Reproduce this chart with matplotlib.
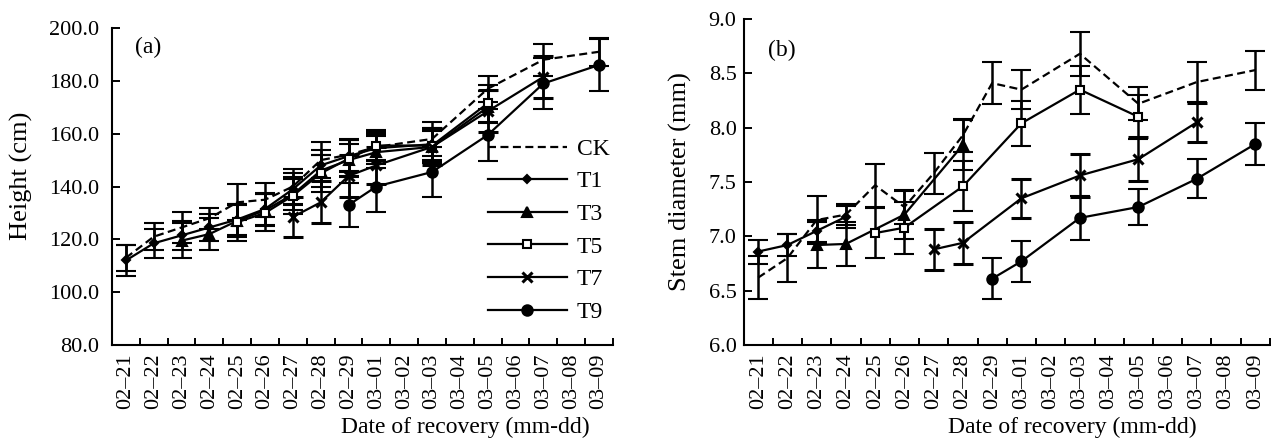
import numpy as np
import matplotlib
matplotlib.use("Agg")
import matplotlib.pyplot as plt
from matplotlib.lines import Line2D

plt.rcParams['font.family'] = ['Liberation Serif', 'DejaVu Serif']

# Sampling dates (mm-dd)
dates = ['02–21', '02–22', '02–23', '02–24', '02–25', '02–26', '02–27', '02–28', '02–29',
         '03–01', '03–02', '03–03', '03–04', '03–05', '03–06', '03–07', '03–08', '03–09']
series_names = ['CK', 'T1', 'T3', 'T5', 'T7', 'T9']
N = None

# (a) plant height, cm
height_ck = [113, 121, 124.5, 128, 134, 135, 140, 150, 152, 155, N, 158, N, 177, N, 188, N, 191]
height_ck_err = [5, 5, 6, 4, 6.8, 6.5, 6.7, 6.7, 6, 5, N, 6.3, N, 5, N, 6, N, 5.3]
height_t1 = [112, 118.5, 121.5, 124.5, 127.5, 131.5, 139, 148, 151.5, 154.5, N, 156, N, N, N, N, N, N]
height_t1_err = [6, 5.5, 5.5, 5, 6, 6, 6, 6, 6, 6, N, 6, N, N, N, N, N, N]
height_t3 = [N, N, 119.5, 122, 127, 131, 137, 146, 150, 153, N, 155, N, 170, N, N, N, N]
height_t3_err = [N, N, 6.5, 6, 6, 6, 6, 6, 6, 6, N, 6, N, 6, N, N, N, N]
height_t5 = [N, N, N, N, 126.5, 130, 136.5, 145, 150.5, 155.5, N, 155.5, N, 171.5, N, N, N, N]
height_t5_err = [N, N, N, N, 7, 7, 7, 7, 7, 6, N, 6, N, 7, N, N, N, N]
height_t7 = [N, N, N, N, N, N, 128.5, 134, 144, 148, N, 155, N, 168.5, N, 181.5, N, N]
height_t7_err = [N, N, N, N, N, N, 7.5, 8, 8, 7, N, 7, N, 8, N, 8, N, N]
height_t9 = [N, N, N, N, N, N, N, N, 133, 140, N, 145.5, N, 159.5, N, 179, N, 186]
height_t9_err = [N, N, N, N, N, N, N, N, 8.5, 9.5, N, 9.6, N, 9.7, N, 9.7, N, 9.8]

# (b) stem diameter, mm
stem_ck = [6.62, 6.80, 7.15, 7.20, 7.47, 7.27, 7.58, 7.93, 8.41, 8.35, N, 8.68, N, 8.22, N, 8.42, N, 8.53]
stem_ck_err = [0.2, 0.22, 0.22, 0.1, 0.2, 0.16, 0.19, 0.15, 0.19, 0.18, N, 0.2, N, 0.15, N, 0.18, N, 0.18]
stem_t1 = [6.86, 6.92, 7.05, 7.18, N, N, N, N, N, N, N, N, N, N, N, N, N, N]
stem_t1_err = [0.11, 0.1, 0.1, 0.1, N, N, N, N, N, N, N, N, N, N, N, N, N, N]
stem_t3 = [N, N, 6.92, 6.93, N, 7.20, N, 7.84, N, N, N, N, N, N, N, N, N, N]
stem_t3_err = [N, N, 0.21, 0.2, N, 0.22, N, 0.23, N, N, N, N, N, N, N, N, N, N]
stem_t5 = [N, N, N, N, 7.03, 7.08, N, 7.46, N, 8.04, N, 8.35, N, 8.10, N, N, N, N]
stem_t5_err = [N, N, N, N, 0.23, 0.24, N, 0.23, N, 0.21, N, 0.22, N, 0.2, N, N, N, N]
stem_t7 = [N, N, N, N, N, N, 6.88, 6.94, N, 7.35, N, 7.56, N, 7.71, N, 8.05, N, N]
stem_t7_err = [N, N, N, N, N, N, 0.19, 0.19, N, 0.18, N, 0.2, N, 0.2, N, 0.18, N, N]
stem_t9 = [N, N, N, N, N, N, N, N, 6.61, 6.77, N, 7.17, N, 7.27, N, 7.53, N, 7.85]
stem_t9_err = [N, N, N, N, N, N, N, N, 0.19, 0.19, N, 0.2, N, 0.17, N, 0.18, N, 0.19]

styles = {
    'CK': dict(ls=(0, (3.6, 2.0)), marker=None),
    'T1': dict(ls='-', marker='D', ms=4.5, mfc='black'),
    'T3': dict(ls='-', marker='^', ms=7.5, mfc='black'),
    'T5': dict(ls='-', marker='s', ms=5.5, mfc='white'),
    'T7': dict(ls='-', marker='x', ms=7, mfc='black', mew=2.2),
    'T9': dict(ls='-', marker='o', ms=7.5, mfc='black'),
}
LW = 1.6
TICK_FS = 16


def draw_series(ax, values, errors, name):
    x = np.array([i for i, v in enumerate(values) if v is not None], dtype=float)
    y = np.array([v for v in values if v is not None], dtype=float)
    e = np.array([errors[i] for i, v in enumerate(values) if v is not None], dtype=float)
    st = dict(styles[name])
    mew = st.pop('mew', 1.5)
    ax.errorbar(x, y, yerr=e, color='black', lw=LW, elinewidth=1.8, capsize=7,
                capthick=1.8, mec='black', mew=mew, zorder=3, **st)


def style_axes(ax, ylim, yticks, fmt, ypad):
    ax.set_xlim(-0.5, len(dates) - 0.5)
    ax.set_ylim(*ylim)
    for s in ('top', 'right'):
        ax.spines[s].set_visible(False)
    for s in ('left', 'bottom'):
        ax.spines[s].set_linewidth(1.5)
    ax.set_xticks(np.arange(len(dates)))
    ax.set_xticklabels(dates, rotation=90, fontsize=TICK_FS)
    ax.tick_params(axis='x', which='major', length=0, pad=6)
    ax.set_xticks(np.arange(len(dates)) + 0.5, minor=True)
    ax.tick_params(axis='x', which='minor', direction='in', length=5, width=1.4)
    ax.set_yticks(yticks)
    ax.set_yticklabels([fmt.format(t) for t in yticks], fontsize=TICK_FS)
    ax.tick_params(axis='y', direction='in', length=6, width=1.4, pad=ypad)


fig = plt.figure(figsize=(12.71, 4.43), dpi=100)
ax1 = fig.add_axes([0.0881, 0.2212, 0.3942, 0.7156])
ax2 = fig.add_axes([0.5850, 0.2212, 0.4142, 0.7359])

height_data = [(height_ck, height_ck_err), (height_t1, height_t1_err), (height_t3, height_t3_err),
               (height_t5, height_t5_err), (height_t7, height_t7_err), (height_t9, height_t9_err)]
stem_data = [(stem_ck, stem_ck_err), (stem_t1, stem_t1_err), (stem_t3, stem_t3_err),
             (stem_t5, stem_t5_err), (stem_t7, stem_t7_err), (stem_t9, stem_t9_err)]

for name, (v, e) in zip(series_names, height_data):
    draw_series(ax1, v, e, name)
for name, (v, e) in zip(series_names, stem_data):
    draw_series(ax2, v, e, name)

style_axes(ax1, (80, 200), np.arange(80, 201, 20), '{:.1f}', 9)
style_axes(ax2, (6.0, 9.0), np.arange(6.0, 9.01, 0.5), '{:.1f}', 5)

ax1.set_ylabel('Height (cm)', fontsize=19)
ax2.set_ylabel('Stem diameter (mm)', fontsize=19)
ax1.yaxis.set_label_coords(-0.158, 0.535)
ax2.yaxis.set_label_coords(-0.097, 0.5)

fig.text(465 / 1271, 1 - 427 / 443, 'Date of recovery (mm-dd)', ha='center', va='center', fontsize=17)
fig.text(1072 / 1271, 1 - 427 / 443, 'Date of recovery (mm-dd)', ha='center', va='center', fontsize=17)

ax1.text(0.046, 0.94, '(a)', transform=ax1.transAxes, fontsize=17, va='center', ha='left')
ax2.text(0.046, 0.905, '(b)', transform=ax2.transAxes, fontsize=17, va='center', ha='left')

handles = []
for name in series_names:
    st = dict(styles[name])
    mew = st.pop('mew', 1.5)
    handles.append(Line2D([], [], color='black', lw=LW, mec='black', mew=mew, **st))
ax1.legend(handles, series_names, loc='center left', bbox_to_anchor=(0.75, 0.361),
           frameon=False, fontsize=17, handlelength=3.35, handletextpad=0.42,
           labelspacing=0.47, borderpad=0, borderaxespad=0)

fig.savefig('out.png', dpi=100, facecolor='white')
